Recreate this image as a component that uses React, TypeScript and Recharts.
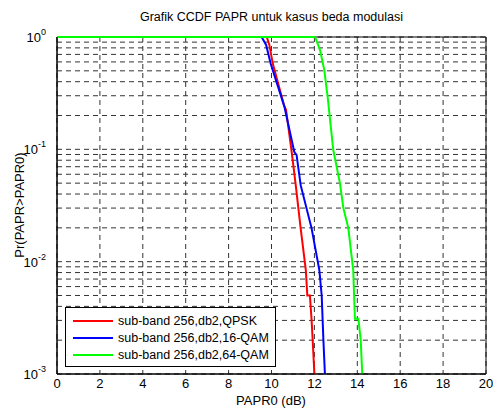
import React from 'react';
import { LineChart, Line, XAxis, YAxis, CartesianGrid, ReferenceArea } from 'recharts';

// dB values and CCDF probabilities
const qpskDb = [0, 9.78, 9.9, 10.06, 10.58, 10.68, 10.94, 11.13, 11.36, 11.6, 11.67, 11.79, 11.87, 11.92, 12.0];
const qpskP = [1, 1, 0.85, 0.58, 0.248, 0.224, 0.095, 0.048, 0.0198, 0.0084, 0.005, 0.005, 0.003, 0.002, 0.001];

const qam16Db = [0, 9.54, 9.75, 9.96, 10.6, 11.06, 11.17, 11.36, 11.87, 12.23, 12.34, 12.42, 12.49];
const qam16P = [1, 1, 0.85, 0.58, 0.24, 0.095, 0.089, 0.048, 0.0198, 0.0084, 0.005, 0.002, 0.001];

const qam64Db = [0, 12.03, 12.26, 12.46, 12.62, 12.88, 13.19, 13.35, 13.58, 13.81, 13.89, 14.05, 14.16, 14.23];
const qam64P = [1, 1, 0.77, 0.51, 0.29, 0.0986, 0.05, 0.03, 0.02, 0.0084, 0.0031, 0.0031, 0.002, 0.001];

const seriesNames = ['sub-band 256,db2,QPSK', 'sub-band 256,db2,16-QAM', 'sub-band 256,db2,64-QAM'];
const seriesColors = ['#ff0000', '#0000ff', '#00ff00'];

const xTicks = [0, 2, 4, 6, 8, 10, 12, 14, 16, 18, 20];
const yTicks = [
  0.001, 0.002, 0.003, 0.004, 0.005, 0.006, 0.007, 0.008, 0.009,
  0.01, 0.02, 0.03, 0.04, 0.05, 0.06, 0.07, 0.08, 0.09,
  0.1, 0.2, 0.3, 0.4, 0.5, 0.6, 0.7, 0.8, 0.9, 1,
];

const zip = (db: number[], p: number[]) => db.map((x, i) => ({ x, p: p[i] }));
const series = [zip(qpskDb, qpskP), zip(qam16Db, qam16P), zip(qam64Db, qam64P)];

const FONT = '"Liberation Sans", Arial, sans-serif';

const YTick = (props: any) => {
  const { x, y, payload } = props;
  const e = Math.log10(payload.value);
  if (Math.abs(e - Math.round(e)) > 1e-6) return null;
  return (
    <text x={x - 3} y={y + 5} textAnchor="end" fontSize={13} fontFamily={FONT} fill="#000">
      <tspan>10</tspan>
      <tspan dy={-7} fontSize={9}>{Math.round(e)}</tspan>
    </text>
  );
};

const XTick = (props: any) => {
  const { x, y, payload } = props;
  return (
    <text x={x} y={y + 6} textAnchor="middle" fontSize={13} fontFamily={FONT} fill="#000">
      {payload.value}
    </text>
  );
};

const App: React.FC = () => {
  return (
    <div style={{ position: 'absolute', left: 0, top: 0, width: 493, height: 408, background: '#fff', fontFamily: FONT }}>
      <LineChart width={493} height={408} margin={{ top: 37, right: 7, left: 0, bottom: 0 }}>
        <CartesianGrid stroke="#333" strokeDasharray="5 4" />
        <XAxis
          type="number"
          dataKey="x"
          domain={[0, 20]}
          ticks={xTicks}
          interval={0}
          height={34}
          tickLine={false}
          axisLine={{ stroke: '#000' }}
          tick={<XTick />}
        />
        <YAxis
          type="number"
          dataKey="p"
          scale="log"
          domain={[0.001, 1]}
          ticks={yTicks}
          interval={0}
          width={57}
          tickLine={false}
          axisLine={{ stroke: '#000' }}
          tick={<YTick />}
        />
        <ReferenceArea x1={0} x2={20} y1={0.001} y2={1} fill="none" stroke="#000" strokeOpacity={1} />
        {series.map((d, i) => (
          <Line
            key={seriesNames[i]}
            data={d}
            dataKey="p"
            type="linear"
            stroke={seriesColors[i]}
            strokeWidth={2}
            dot={false}
            isAnimationActive={false}
          />
        ))}
      </LineChart>

      <div style={{ position: 'absolute', left: 57, width: 429, top: 10, textAlign: 'center', fontSize: 12.5 }}>
        Grafik CCDF PAPR untuk kasus beda modulasi
      </div>
      <div style={{ position: 'absolute', left: 271, top: 394, transform: 'translateX(-50%)', fontSize: 13, lineHeight: '13px', whiteSpace: 'nowrap' }}>
        PAPR0 (dB)
      </div>
      <div
        style={{
          position: 'absolute',
          left: 19,
          top: 205,
          transform: 'translate(-50%, -50%) rotate(-90deg)',
          fontSize: 13,
          whiteSpace: 'nowrap',
        }}
      >
        Pr(PAPR&gt;PAPR0)
      </div>

      <div
        style={{
          position: 'absolute',
          left: 65,
          top: 307,
          width: 211,
          height: 60,
          boxSizing: 'border-box',
          border: '1px solid #000',
          background: '#fff',
        }}
      >
        {seriesNames.map((name, i) => (
          <div key={name} style={{ position: 'absolute', left: 7, top: 5 + i * 17, height: 15, display: 'flex', alignItems: 'center' }}>
            <div style={{ width: 40, height: 2, background: seriesColors[i] }} />
            <span style={{ marginLeft: 5, fontSize: 12.5, whiteSpace: 'nowrap' }}>{name}</span>
          </div>
        ))}
      </div>
    </div>
  );
};

export default App;
